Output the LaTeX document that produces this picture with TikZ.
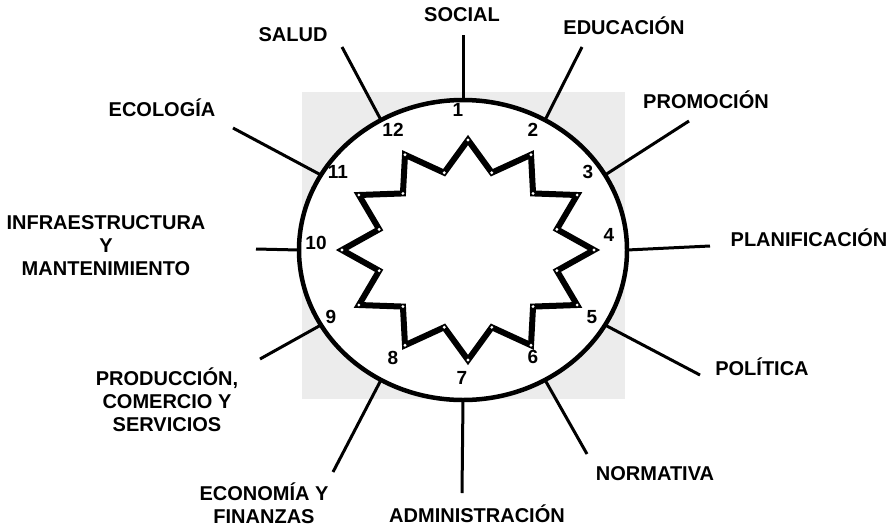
\documentclass[tikz,border=0pt]{standalone}
\usepackage{fontspec}
\setmainfont{Liberation Sans}

\begin{document}
\begin{tikzpicture}[
    x=1pt, y=-1pt,
    lbl/.style={font=\bfseries\fontsize{20}{23}\selectfont, align=center, inner sep=0pt},
    num/.style={font=\bfseries\fontsize{19}{20}\selectfont, inner sep=0pt},
    spoke/.style={line width=3pt},
    rim/.style={line width=4.5pt},
    zack/.style={line width=6pt, line join=miter}
]
\useasboundingbox (0,0) rectangle (891,528);

% Hintergrund
\fill[gray!15] (302,92) rectangle (625,399);

% Ellipse
\node[draw=none, inner sep=0pt] (mitte) at (463,250) {};
\draw[rim, fill=white] (mitte) ellipse [x radius=164pt, y radius=150pt];

% Speichen
\foreach \i/\a/\ex/\ey in {1/90/463/35, 2/60/582/47, 3/30/689/121, 4/0/710/246,
    5/-30/700/375, 6/-60/587/454, 7/-90/462/493, 8/-120/333/472,
    9/-150/260/359, 10/180/256/249, 11/150/233/128, 12/120/342/47}
{
    \coordinate (p\i) at ({463+164*cos(\a)},{250-150*sin(\a)});
    \coordinate (e\i) at (\ex,\ey);
    \draw[spoke] (p\i) -- (e\i);
}

% Stern
\begin{scope}[shift={(468,250)}]
\draw[zack] (90:126pt and 110pt)
    \foreach \k in {0,...,11}{ -- ({75-30*\k}:92pt and 80pt) -- ({60-30*\k}:126pt and 110pt)} -- cycle;
\foreach \k in {0,...,11}{
    \fill[white] ({90-30*\k}:126pt and 110pt) circle (1.6pt);
    \fill[white] ({75-30*\k}:92pt and 80pt) circle (1.6pt);
}
\end{scope}

% Nummern
\foreach \i/\x/\y in {1/458/110, 2/533/130, 3/588/172, 4/609/235, 5/592/317, 6/533/357,
    7/462/378, 8/393/358, 9/331/317, 10/316/243, 11/338/172, 12/393/130}
    \node[num] (n\i) at (\x,\y) {\i};

% Beschriftungen
\node[lbl] (social) at (462,15) {SOCIAL};
\node[lbl] (salud) at (293,35) {SALUD};
\node[lbl] (educ) at (624,26) {EDUCACIÓN};
\node[lbl] (promo) at (706,100) {PROMOCIÓN};
\node[lbl] (plan) at (809,238) {PLANIFICACIÓN};
\node[lbl] (poli) at (762,367) {POLÍTICA};
\node[lbl] (norm) at (655,474) {NORMATIVA};
\node[lbl] (admin) at (477,514) {ADMINISTRACIÓN};
\node[lbl] (econ) at (264,503) {ECONOMÍA Y\\FINANZAS};
\node[lbl] (prod) at (167,400) {PRODUCCIÓN,\\COMERCIO Y\\SERVICIOS};
\node[lbl] (infra) at (106,246) {INFRAESTRUCTURA\\Y\\MANTENIMIENTO};
\node[lbl] (eco) at (162,108) {ECOLOGÍA};
\end{tikzpicture}
\end{document}
